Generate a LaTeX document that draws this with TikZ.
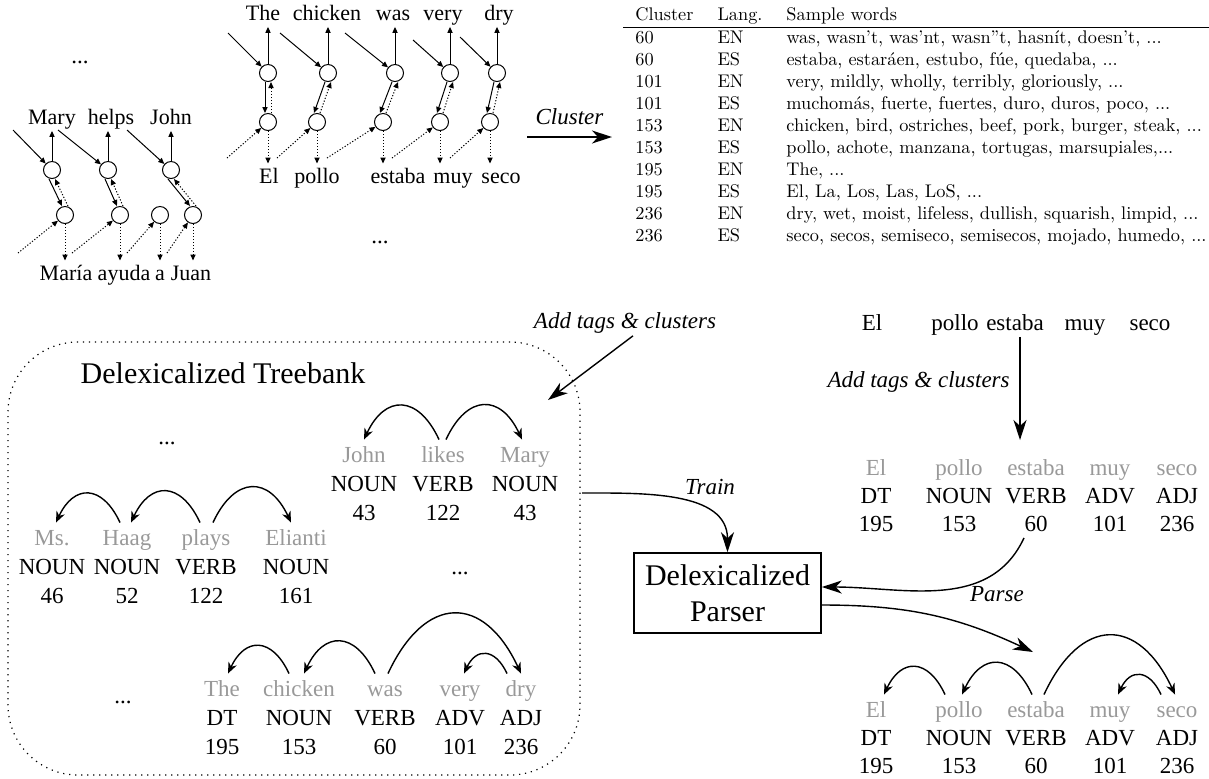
\documentclass[tikz,border=0pt]{standalone}
\usepackage{fontspec}
\setmainfont{Liberation Serif}
\newfontfamily\lmfont{lmroman10-regular.otf}
\usetikzlibrary{arrows.meta,positioning,calc}

\tikzset{
  word/.style={font=\fontsize{11}{13}\selectfont, inner sep=1pt, text height=7.5pt, text depth=2pt},
  state/.style={draw, circle, minimum size=8.5pt, inner sep=0pt, line width=0.5pt},
  emit/.style={-{Triangle[length=3pt,width=2.6pt]}, line width=0.5pt},
  hid/.style={emit, dash pattern=on 0.6pt off 0.9pt},
  gword/.style={font=\fontsize{11.5}{13}\selectfont, text=black!40, text height=7.5pt, text depth=2pt, inner sep=1pt, outer sep=3pt},
  tag/.style={font=\fontsize{11.5}{13}\selectfont, inner sep=1pt, text height=7.5pt, text depth=2pt},
  arcL/.style={-{Stealth[length=5.5pt,width=4.5pt]}, line width=0.7pt, out=115, in=65, looseness=1.7},
  arcR/.style={arcL, out=65, in=115},
  flow/.style={-{Stealth[length=10pt,width=6.5pt,inset=3pt]}, line width=0.7pt},
  lbl/.style={font=\itshape\fontsize{11.5}{13}\selectfont, inner sep=1pt},
  ell/.style={font=\fontsize{11.5}{13}\selectfont}
}

\begin{document}
\begin{tikzpicture}[x=0.5pt,y=-0.5pt]
  \useasboundingbox (0,0) rectangle (1209,778);

  % word alignment, Mary helps John
  \node[word] (mw1) at (52,119) {Mary};
  \node[word] (mw2) at (111,119) {helps};
  \node[word] (mw3) at (171,119) {John};
  \foreach \x [count=\i] in {52,108,171}
      \node[state] (mt\i) at (\x,170) {};
  \foreach \x [count=\i] in {65,120,160,193}
      \node[state] (ms\i) at (\x,215) {};
  \foreach \w/\x [count=\i] in {María/66,ayuda/124,a/160,Juan/191}
      \node[word, outer sep=1.5pt] (mb\i) at (\x,275) {\w};
  \foreach \x [count=\i] in {13,58,127}{
      \coordinate (min\i) at (\x,130);
      \draw[emit] (min\i) -- (mt\i);
      \draw[emit] (mt\i) -- (mt\i |- mw\i.south);
  }
  \foreach \a/\b in {1/1,2/2,3/4}{
      \draw[emit] ([xshift=-1.5pt]mt\a.south) -- ([xshift=-1.5pt]ms\b.north);
      \draw[hid] ([xshift=1.5pt]ms\b.north) -- ([xshift=1.5pt]mt\a.south);
  }
  \foreach \x [count=\i] in {18,72,127,167}{
      \coordinate (mdn\i) at (\x,253);
      \draw[hid] (mdn\i) -- (ms\i);
      \draw[hid] (ms\i) -- (ms\i |- mb\i.north);
  }

  % word alignment, The chicken was very dry
  \foreach \w/\x [count=\i] in {The/263,chicken/327,was/393,very/443,dry/499}
      \node[word] (cw\i) at (\x,15) {\w};
  \foreach \x [count=\i] in {268,328,395,450,497}
      \node[state] (ct\i) at (\x,73) {};
  \foreach \x [count=\i] in {268,317,383,440,490}
      \node[state] (cs\i) at (\x,122) {};
  \foreach \w/\x [count=\i] in {El/269,pollo/317,estaba/398,muy/453,seco/501}
      \node[word, outer sep=1.5pt] (cb\i) at (\x,178) {\w};
  \foreach \x/\y [count=\i] in {228/33,280/33,345/33,413/40,460/37}{
      \coordinate (cin\i) at (\x,\y);
      \draw[emit] (cin\i) -- (ct\i);
      \draw[emit] (ct\i) -- (ct\i |- cw\i.south);
      \draw[emit] ([xshift=-1.5pt]ct\i.south) -- ([xshift=-1.5pt]cs\i.north);
      \draw[hid] ([xshift=1.5pt]cs\i.north) -- ([xshift=1.5pt]ct\i.south);
  }
  \foreach \x [count=\i] in {227,277,327,392,450}{
      \coordinate (cdn\i) at (\x,158);
      \draw[hid] (cdn\i) -- (cs\i);
      \draw[hid] (cs\i) -- (cs\i |- cb\i.north);
  }

  \node[ell] (e1) at (80,62) {...};
  \node[ell] (e2) at (380,242) {...};

  % cluster table
  \node[anchor=north west, inner sep=0pt, font=\lmfont\fontsize{9.15}{11}\selectfont] (tab) at (623,5) {%
    \begin{tabular}{lll}
      Cluster & Lang. & Sample words\\
      \hline
      60  & EN & was, wasn’t, was’nt, wasn”t, hasnít, doesn’t, ...\\
      60  & ES & estaba, estaráen, estubo, fúe, quedaba, ...\\
      101 & EN & very, mildly, wholly, terribly, gloriously, ...\\
      101 & ES & muchomás, fuerte, fuertes, duro, duros, poco, ...\\
      153 & EN & chicken, bird, ostriches, beef, pork, burger, steak, ...\\
      153 & ES & pollo, achote, manzana, tortugas, marsupiales,...\\
      195 & EN & The, ...\\
      195 & ES & El, La, Los, Las, LoS, ...\\
      236 & EN & dry, wet, moist, lifeless, dullish, squarish, limpid, ...\\
      236 & ES & seco, secos, semiseco, semisecos, mojado, humedo, ...
    \end{tabular}};
  \coordinate (clsrc) at (527,137);
  \coordinate (cldst) at (612,137);
  \draw[flow] (clsrc) -- (cldst) node[lbl, midway, above=5pt] {Cluster};

  % delexicalized treebank
  \node[draw, dash pattern=on 0.6pt off 2.4pt, line width=0.6pt, rounded corners=35pt,
        minimum width=286pt, minimum height=216.5pt] (bank) at (294,558.5) {};
  \node[font=\fontsize{15}{18}\selectfont] (banktitle) at (223,373) {Delexicalized Treebank};
  \node[lbl] (addl) at (625,323) {Add tags \& clusters};
  \coordinate (addtipL) at (548,400);
  \draw[flow] ([xshift=4pt]addl.south) -- (addtipL);

  \foreach \w/\t/\n/\x [count=\i] in {John/NOUN/43/364,likes/VERB/122/443,Mary/NOUN/43/525}{
      \node[gword] (jw\i) at (\x,457) {\w};
      \node[tag] (jt\i) at (\x,486) {\t};
      \node[tag] (jn\i) at (\x,515) {\n};
  }
  \draw[arcL] ([xshift=-2pt]jw2.north) to (jw1.north);
  \draw[arcR] ([xshift=1.5pt]jw2.north) to ([xshift=-1.5pt]jw3.north);

  \foreach \w/\t/\n/\x [count=\i] in {Ms./NOUN/46/52,Haag/NOUN/52/127,plays/VERB/122/206,Elianti/NOUN/161/296}{
      \node[gword] (hw\i) at (\x,540) {\w};
      \node[tag] (ht\i) at (\x,569) {\t};
      \node[tag] (hn\i) at (\x,598) {\n};
  }
  \draw[arcL] ([xshift=-3.5pt]hw2.north) to ([xshift=2pt]hw1.north);
  \draw[arcL] ([xshift=-3pt]hw3.north) to ([xshift=2pt]hw2.north);
  \draw[arcR] ([xshift=3.5pt]hw3.north) to ([xshift=-2.5pt]hw4.north);

  \foreach \w/\t/\n/\x [count=\i] in {The/DT/195/222,chicken/NOUN/153/299,was/VERB/60/385,very/ADV/101/460,dry/ADJ/236/521}{
      \node[gword] (tw\i) at (\x,691) {\w};
      \node[tag] (tt\i) at (\x,720) {\t};
      \node[tag] (tn\i) at (\x,749) {\n};
  }
  \draw[arcL] ([xshift=-5pt]tw2.north) to ([xshift=3pt]tw1.north);
  \draw[arcL] ([xshift=-5pt]tw3.north) to ([xshift=2.5pt]tw2.north);
  \draw[arcR] ([xshift=1.5pt]tw3.north) to (tw5.north);
  \draw[arcL] ([xshift=-7pt]tw5.north) to ([xshift=2pt]tw4.north);

  \node[ell] (e3) at (167,443) {...};
  \node[ell] (e4) at (460,573) {...};
  \node[ell] (e5) at (123,702) {...};

  % target sentence
  \foreach \w/\x [count=\i] in {El/872,pollo/955,estaba/1015,muy/1085,seco/1150}
      \node[tag] (ts\i) at (\x,325) {\w};
  \coordinate (addtipR) at (1020,440);
  \draw[flow] (ts3.south -| addtipR) -- (addtipR);
  \node[lbl, anchor=east] (addr) at (1012,382) {Add tags \& clusters};

  \foreach \w/\t/\n/\x [count=\i] in {El/DT/195/876,pollo/NOUN/153/959,estaba/VERB/60/1036,muy/ADV/101/1110,seco/ADJ/236/1177}{
      \node[gword] (mw\i) at (\x,470) {\w};
      \node[tag] (mt\i) at (\x,498) {\t};
      \node[tag] (mn\i) at (\x,526) {\n};
      \node[gword] (bw\i) at (\x,712) {\w};
      \node[tag] (bt\i) at (\x,740) {\t};
      \node[tag] (bn\i) at (\x,768) {\n};
  }
  \draw[arcL] ([xshift=-7pt]bw2.north) to ([xshift=4pt]bw1.north);
  \draw[arcL] ([xshift=-2pt]bw3.north) to ([xshift=1.5pt]bw2.north);
  \draw[arcR] ([xshift=4pt]bw3.north) to ([xshift=-1pt]bw5.north);
  \draw[arcL] ([xshift=-8pt]bw5.north) to ([xshift=4pt]bw4.north);

  % parser
  \node[draw, line width=0.8pt, minimum width=93.5pt, minimum height=40pt, align=center,
        font=\fontsize{15}{18}\selectfont] (parser) at (727.5,593) {Delexicalized\\Parser};
  \coordinate (trainsrc) at (582,493);
  \draw[flow] (trainsrc) to[out=0,in=90] (parser.north);
  \node[lbl] (trainl) at (710,487) {Train};
  \draw[flow] ([xshift=-6pt]mn3.south) to[out=-115,in=0] ([yshift=3pt]parser.east);
  \coordinate (parsetip) at (1033,652);
  \draw[flow] ([yshift=-6pt]parser.east) to[out=0,in=155] (parsetip);
  \node[lbl] (parsel) at (997,594) {Parse};
\end{tikzpicture}
\end{document}
